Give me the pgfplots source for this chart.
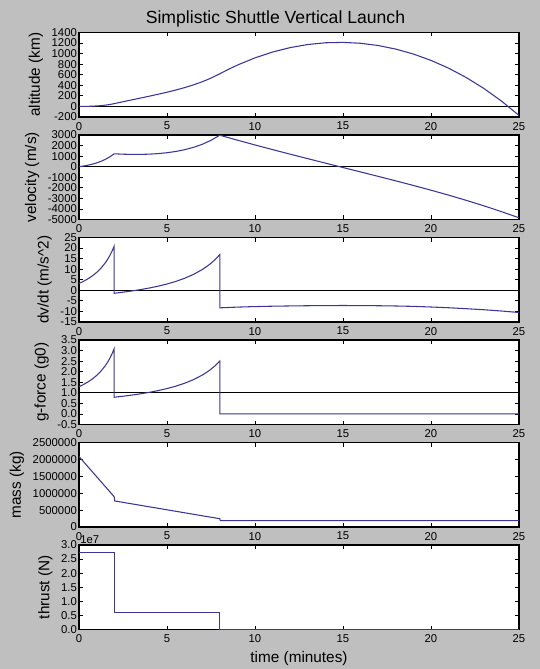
\documentclass[border=0pt]{standalone}
\usepackage{fontspec}
\setmainfont{Liberation Sans}
\usepackage{pgfplots}
\pgfplotsset{compat=1.18}
\definecolor{bgc}{RGB}{191,191,191}
\definecolor{lc}{RGB}{60,55,150}
\pgfplotsset{
  myax/.style={
    scale only axis, width=330pt, height=63.375pt, anchor=south west,
    xmin=0, xmax=25, xtick={0,5,10,15,20,25}, xticklabels={0,5,10,15,20,25},
    tick align=inside, major tick length=3pt,
    tick label style={font=\fontsize{8.5}{9}\selectfont},
    yticklabel style={inner xsep=1.4pt},
    xticklabel style={yshift=-0.3pt},
    label style={font=\fontsize{11.5}{13}\selectfont},
    axis line style={line width=0.9pt},
    every tick/.style={black, line width=0.6pt},
    axis background/.style={fill=white},
    ylabel style={yshift=1.5pt},
    clip mode=individual,
  },
  zl/.style={black, line width=1pt, forget plot},
  dl/.style={lc, line width=0.8pt},
}
\begin{document}
\begin{tikzpicture}
\fill[bgc] (0,0) rectangle (405pt,501.75pt);
\useasboundingbox (0,0) rectangle (405pt,501.75pt);
\node[font=\fontsize{13.2}{14}\selectfont] at (206.6pt,487.5pt) {Simplistic Shuttle Vertical Launch};

% altitude
\begin{axis}[myax, at={(59.25pt,414pt)}, ymin=-200, ymax=1400,
  ytick={-200,0,200,400,600,800,1000,1200,1400},
  yticklabels={-200,0,200,400,600,800,1000,1200,1400},
  ylabel={altitude (km)}]
\addplot[zl] coordinates {(0,0) (25,0)};
\addplot[dl] coordinates {
(0,0) (0.25,0.45) (0.5,1.92) (0.75,4.70) (1,9.13) (1.25,15.6) (1.5,24.6) (1.75,36.8) (2,53.0)
(2.5,89.0) (3,124.2) (3.5,159.1) (4,194.4) (4.5,230.8) (5,269.2) (5.5,310.6) (6,356.3) (6.5,407.8)
(7,467.0) (7.5,536.2) (8,618.3) (8.5,704.2) (9,783.0) (10,920.0) (11,1030.2) (12,1114.2) (13,1172.5)
(14,1205.4) (15,1213.2) (16,1195.9) (17,1153.5) (18,1085.7) (19,992.1) (20,872.0) (21,724.4)
(22,548.0) (23,341.4) (24,102.7) (25,-170.1)};
\end{axis}

% velocity
\begin{axis}[myax, at={(59.25pt,337.125pt)}, ymin=-5000, ymax=3000,
  ytick={-5000,-4000,-3000,-2000,-1000,0,1000,2000,3000},
  yticklabels={-5000,-4000,-3000,-2000,-1000,0,1000,2000,3000},
  ylabel={velocity (m/s)}]
\addplot[zl] coordinates {(0,0) (25,0)};
\addplot[dl] coordinates {
(0,0) (0.25,60) (0.5,136) (0.75,235) (1,356) (1.25,507) (1.5,696) (1.75,932) (2,1220)
(2.5,1182) (3,1162) (3.5,1163) (4,1187) (4.5,1238) (5,1321) (5.5,1442) (6,1607) (6.5,1828)
(7,2117) (7.5,2495) (8,2980) (9,2510) (10,2057) (11,1616) (12,1184) (13,759) (14,338) (15,-79)
(16,-497) (17,-917) (18,-1343) (19,-1778) (20,-2226) (21,-2694) (22,-3185) (23,-3703)
(24,-4253) (25,-4840)};
\end{axis}

% dv/dt
\begin{axis}[myax, at={(59.25pt,260.25pt)}, ymin=-15, ymax=25,
  ytick={-15,-10,-5,0,5,10,15,20,25},
  yticklabels={-15,-10,-5,0,5,10,15,20,25},
  ylabel={dv/dt (m/s\^{}2)}]
\addplot[zl] coordinates {(0,0) (25,0)};
\addplot[dl] coordinates {
(0,3.25) (0.25,4.24) (0.5,5.40) (0.75,6.78) (1,8.44) (1.25,10.49) (1.5,13.07) (1.625,14.62)
(1.75,16.40) (1.875,18.47) (2,20.9) (2,-1.40) (2.5,-0.88) (3,-0.31) (3.5,0.35) (4,1.10)
(4.5,1.97) (5,3.00) (5.5,4.21) (6,5.69) (6.5,7.51) (7,9.81) (7.25,11.21) (7.5,12.81)
(7.75,14.69) (8,16.90) (8,-8.3) (9,-7.95) (10,-7.7) (11,-7.52) (12,-7.4) (13,-7.3) (14,-7.22)
(15,-7.2) (16,-7.22) (17,-7.3) (18,-7.42) (19,-7.6) (20,-7.9) (21,-8.25) (22,-8.7) (23,-9.2)
(24,-9.8) (25,-10.5)};
\end{axis}

% g-force
\begin{axis}[myax, at={(59.25pt,183.375pt)}, ymin=-0.5, ymax=3.5,
  ytick={-0.5,0,0.5,1,1.5,2,2.5,3,3.5},
  yticklabels={-0.5,0.0,0.5,1.0,1.5,2.0,2.5,3.0,3.5},
  ylabel={g-force (g0)}]
\addplot[zl] coordinates {(0,1) (25,1)};
\addplot[dl] coordinates {
(0,1.29) (0.25,1.391) (0.5,1.510) (0.75,1.650) (1,1.820) (1.25,2.029) (1.5,2.291) (1.625,2.449)
(1.75,2.631) (1.875,2.842) (2,3.09) (2,0.79) (2.5,0.838) (3,0.892) (3.5,0.953) (4,1.023)
(4.5,1.105) (5,1.201) (5.5,1.314) (6,1.452) (6.5,1.622) (7,1.837) (7.25,1.968) (7.5,2.118)
(7.75,2.293) (8,2.50) (8,0) (25,0)};
\end{axis}

% mass
\begin{axis}[myax, at={(59.25pt,106.5pt)}, ymin=0, ymax=2500000,
  ytick={0,500000,1000000,1500000,2000000,2500000},
  yticklabels={0,500000,1000000,1500000,2000000,2500000},
  scaled y ticks=false,
  ylabel={mass (kg)}]
\addplot[dl] coordinates {
(0,2085000) (2,895000) (2.03,770000) (8,245000) (8.03,188000) (25,188000)};
\end{axis}

% thrust
\begin{axis}[myax, at={(59.25pt,29.625pt)}, ymin=0, ymax=3,
  ytick={0,0.5,1,1.5,2,2.5,3},
  yticklabels={0.0,0.5,1.0,1.5,2.0,2.5,3.0},
  ylabel={thrust (N)}, xlabel={time (minutes)}]
\addplot[dl] coordinates {
(0,2.75) (2,2.75) (2,0.61) (8,0.61) (8,0) (25,0)};
\node[anchor=south west, inner sep=0.8pt, font=\fontsize{8.5}{9}\selectfont] at (rel axis cs:0,1) {1e7};
\end{axis}
\end{tikzpicture}
\end{document}
